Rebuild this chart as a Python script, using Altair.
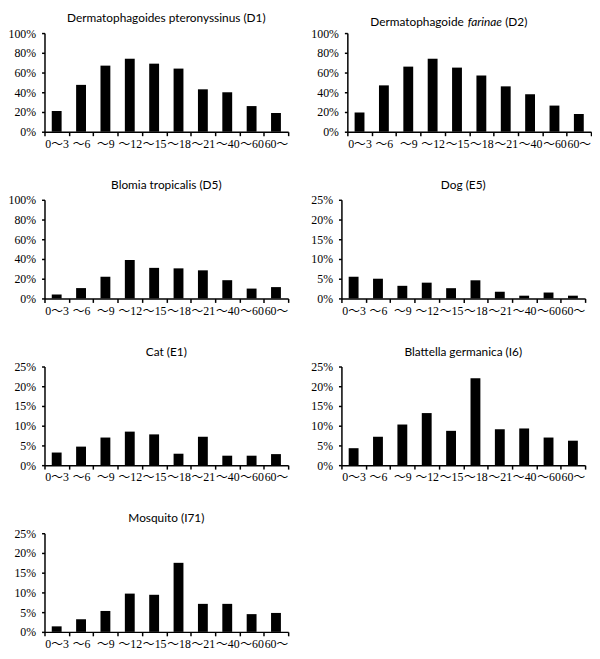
import altair as alt
import pandas as pd

ages = ["0〜3", "〜6", "〜9", "〜12", "〜15", "〜18", "〜21", "〜40", "〜60", "60〜"]

d1_vals = [21, 47.5, 67, 74, 69, 64, 43, 40, 26, 19]
d2_vals = [19.5, 47, 66, 74, 65, 57, 46, 38, 26.5, 18]
d5_vals = [4, 10.5, 22, 39, 31, 30.5, 28.5, 18.5, 10, 11.5]
dog_vals = [5.5, 5.0, 3.2, 4.0, 2.6, 4.6, 1.7, 0.7, 1.5, 0.7]
cat_vals = [3.2, 4.7, 7.0, 8.5, 7.8, 2.9, 7.2, 2.4, 2.4, 2.8]
blat_vals = [4.3, 7.2, 10.3, 13.2, 8.7, 22.0, 9.1, 9.3, 7.0, 6.2]
mosq_vals = [1.4, 3.2, 5.3, 9.7, 9.4, 17.5, 7.1, 7.1, 4.5, 4.8]

titles = [
    "Dermatophagoides pteronyssinus (D1)",
    ("Dermatophagoide", "farinae", "(D2)"),
    "Blomia tropicalis (D5)",
    "Dog (E5)",
    "Cat (E1)",
    "Blattella germanica (I6)",
    "Mosquito (I71)",
]

W, H = 247, 100
TFONT = "Lato"
TSIZE = 12
TOFF = 2
SERIF = "'Liberation Serif', 'Noto Sans CJK JP'"


def panel(title, vals, ymax, step):
    df = pd.DataFrame({"age": ages, "v": vals})
    bars = alt.Chart(df).mark_bar(color="black", size=10).encode(
        x=alt.X(
            "age:N",
            sort=ages,
            scale=alt.Scale(paddingInner=0, paddingOuter=0),
            axis=alt.Axis(
                title=None, labelAngle=0, tickBand="extent", tickSize=4, grid=False,
                labelFont=SERIF, labelFontSize=12, labelPadding=3,
            ),
        ),
        y=alt.Y(
            "v:Q",
            scale=alt.Scale(domain=[0, ymax], nice=False),
            axis=alt.Axis(
                title=None, values=list(range(0, ymax + 1, step)), grid=False,
                labelExpr="datum.value + '%'", tickSize=3,
                labelFont=SERIF, labelFontSize=12, labelPadding=6,
            ),
        ),
    )
    if isinstance(title, str):
        return bars.properties(
            width=W, height=H,
            title=alt.TitleParams(title, fontSize=TSIZE, font=TFONT, fontWeight="normal",
                                  offset=TOFF, anchor="middle", color="black"),
        )
    pre, it, post = title
    tdf = pd.DataFrame({"a": [pre], "b": [it], "c": [post]})
    base = alt.Chart(tdf)
    common = dict(font=TFONT, fontSize=TSIZE, baseline="bottom", color="black")
    t1 = base.mark_text(align="right", **common).encode(
        text="a:N", x=alt.value(118), y=alt.value(-TOFF - 2))
    t2 = base.mark_text(align="left", fontStyle="italic", **common).encode(
        text="b:N", x=alt.value(122), y=alt.value(-TOFF - 2))
    t3 = base.mark_text(align="left", **common).encode(
        text="c:N", x=alt.value(160), y=alt.value(-TOFF - 2))
    return alt.layer(bars, t1, t2, t3).properties(width=W, height=H)


p1 = panel(titles[0], d1_vals, 100, 20)
p2 = panel(titles[1], d2_vals, 100, 20)
p3 = panel(titles[2], d5_vals, 100, 20)
p4 = panel(titles[3], dog_vals, 25, 5)
p5 = panel(titles[4], cat_vals, 25, 5)
p6 = panel(titles[5], blat_vals, 25, 5)
p7 = panel(titles[6], mosq_vals, 25, 5)

chart = alt.vconcat(
    alt.hconcat(p1, p2, spacing=22),
    alt.hconcat(p3, p4, spacing=22),
    alt.hconcat(p5, p6, spacing=22),
    alt.hconcat(p7, spacing=22),
    spacing=30,
).properties(
    background="white", padding=0,
).configure_view(stroke=None).configure_axis(
    domainColor="black", domainWidth=1.5, tickColor="black", tickWidth=1.5,
    labelColor="black", grid=False,
)

chart.save("out.html", embed_options={"renderer": "svg", "actions": False})
